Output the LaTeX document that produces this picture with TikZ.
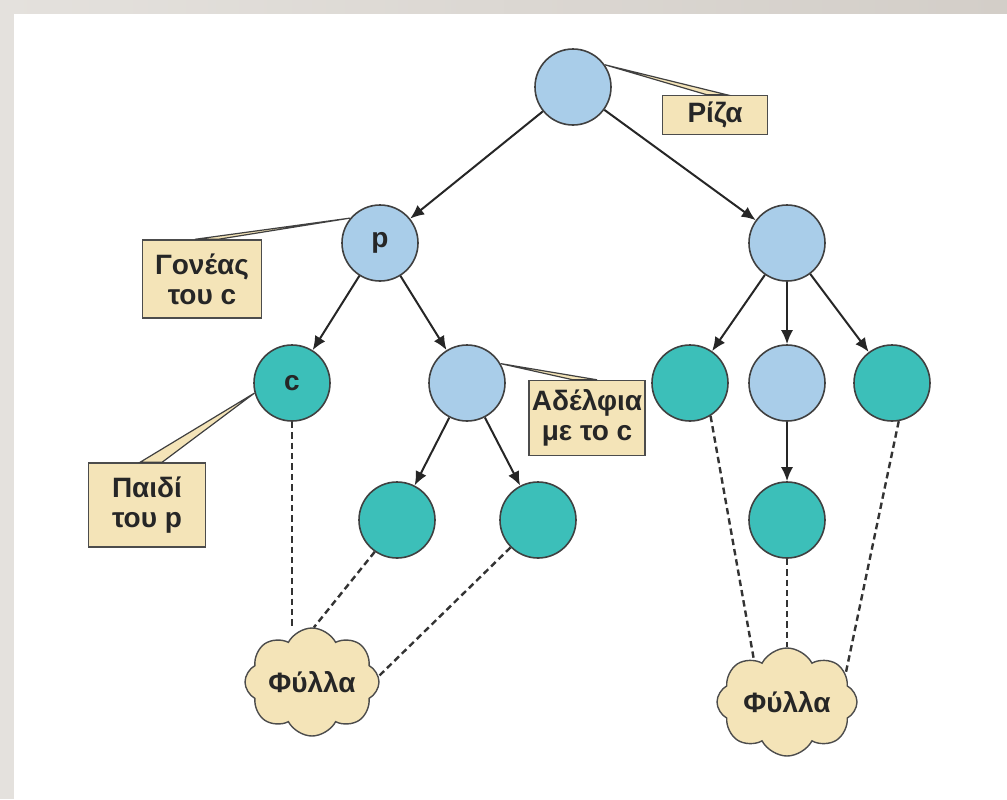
\documentclass[tikz,border=0pt]{standalone}
\usepackage{fontspec}
\setmainfont{Liberation Sans}
\usetikzlibrary{arrows.meta,positioning,calc,shapes.symbols}

\definecolor{nodeblue}{HTML}{A9CDE9}
\definecolor{nodeteal}{HTML}{3CBFB9}
\definecolor{notebeige}{HTML}{F4E4B8}
\definecolor{framegray}{HTML}{E4E1DD}
\definecolor{framegraydark}{HTML}{D3CEC8}

\begin{document}
\begin{tikzpicture}[
    x=0.5pt, y=-0.5pt,
    font=\fontsize{14}{15}\selectfont\bfseries,
    vertex/.style={circle, draw=black!75, line width=0.8pt, minimum size=38pt, inner sep=0pt, text=black!85},
    inner/.style={vertex, fill=nodeblue},
    leaf/.style={vertex, fill=nodeteal},
    note/.style={draw=black!70, line width=0.7pt, fill=notebeige, align=center, inner sep=0pt, text=black!85},
    pointer/.style={draw=black!75, line width=0.6pt, fill=notebeige},
    leaves/.style={cloud, cloud puffs=8, cloud puff arc=125, cloud ignores aspect, draw=black!70, line width=0.7pt, fill=notebeige, inner sep=0pt, text=black!85},
    arr/.style={-{Latex[length=7pt, width=6pt]}, line width=1pt, black!85},
    dotline/.style={dash pattern=on 3.2pt off 2pt, line width=1.2pt, black!80}
  ]
    % frame
    \useasboundingbox (0,0) rectangle (1007,799);
    \shade[left color=framegray, right color=framegraydark] (0,0) rectangle (1007,13);
    \fill[framegray] (0,0) rectangle (14,799);

    % tree
    \node[inner] (root) at (573,87) {};
    \node[inner] (p) at (380,243) {p};
    \node[inner] (rp) at (787,243) {};
    \node[leaf] (c) at (292,383) {c};
    \node[inner] (sib) at (467,383) {};
    \node[leaf] (r1) at (690,383) {};
    \node[inner] (r2) at (787,383) {};
    \node[leaf] (r3) at (892,383) {};
    \node[leaf] (lf1) at (397,520) {};
    \node[leaf] (lf2) at (538,520) {};
    \node[leaf] (lf3) at (787,520) {};
    \draw[arr] (root) -- (p);
    \draw[arr] (root) -- (rp);
    \draw[arr] (p) -- (c);
    \draw[arr] (p) -- (sib);
    \draw[arr] (sib) -- (lf1);
    \draw[arr] (sib) -- (lf2);
    \draw[arr] (rp) -- (r1);
    \draw[arr] (rp) -- (r2);
    \draw[arr] (rp) -- (r3);
    \draw[arr] (r2) -- (lf3);

    % leaves
    \node[leaves, minimum width=67pt, minimum height=54pt] (fl1) at (312,682) {Φύλλα};
    \node[leaves, minimum width=70pt, minimum height=54pt] (fl2) at (787,702) {Φύλλα};
    \draw[dotline] (c.south) -- (c.south |- fl1.north);
    \draw[dotline] (lf1.235) -- (fl1.88);
    \draw[dotline] (lf2.225) -- (fl1.5);
    \draw[dotline] (r1.-58) -- (fl2.128);
    \draw[dotline] (lf3.south) -- (fl2.north);
    \draw[dotline] (r3.-80) -- (fl2.26);

    % notes
    \node[note, minimum width=52.5pt, minimum height=19.5pt] (riza) at (715,115) {Ρίζα};
    \node[note, minimum width=59.5pt, minimum height=39pt] (goneas) at (202,279) {Γονέας\\του c};
    \node[note, minimum width=58.5pt, minimum height=42pt] (paidi) at (147,505) {Παιδί\\του p};
    \node[note, minimum width=58pt, minimum height=37.5pt] (adelfia) at (587,418) {Αδέλφια\\με το c};
    \filldraw[pointer] (root.35) -- ($(riza.north)+(-8,0)$) -- ($(riza.north)+(12,0)$) -- cycle;
    \filldraw[pointer] (p.140) -- ($(goneas.north)+(-7,0)$) -- ($(goneas.north)+(16,0)$) -- cycle;
    \filldraw[pointer] (c.195) -- ($(paidi.north)+(-7,0)$) -- ($(paidi.north)+(15,0)$) -- cycle;
    \filldraw[pointer] (sib.30) -- ($(adelfia.north)+(-14,0)$) -- ($(adelfia.north)+(10,0)$) -- cycle;
  \end{tikzpicture}
\end{document}
